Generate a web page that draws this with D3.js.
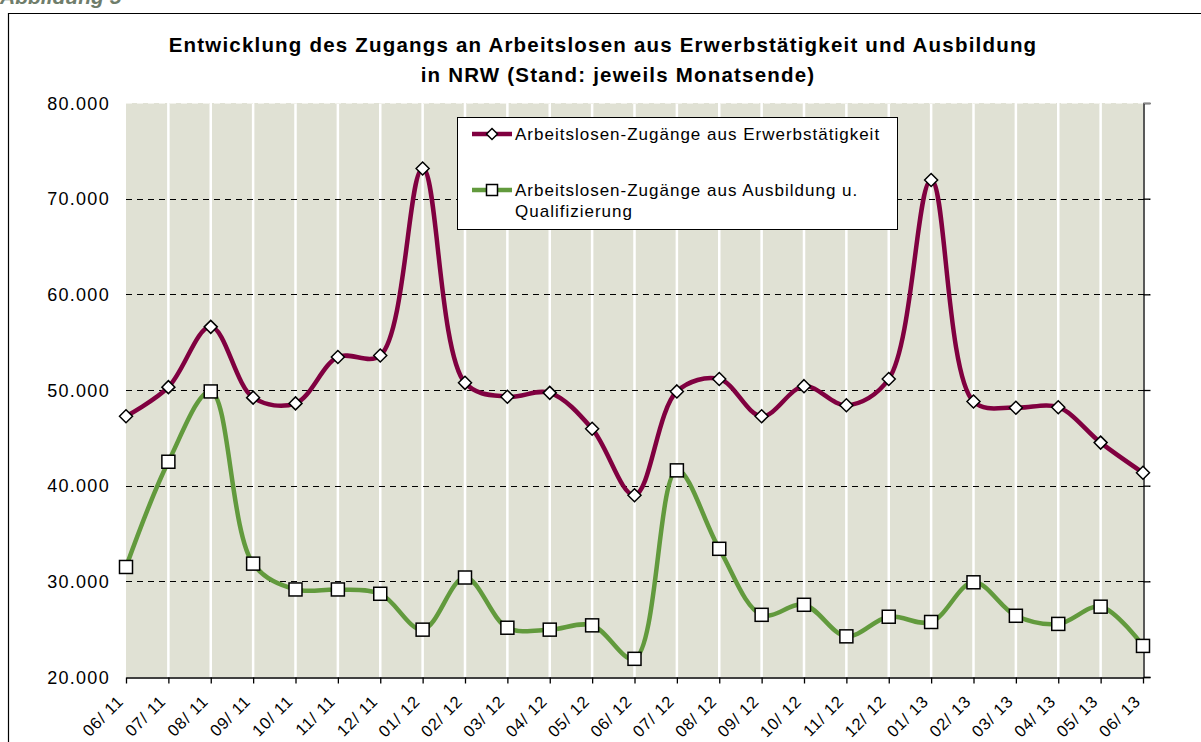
<!DOCTYPE html>
<meta charset="utf-8">
<title>Zugang an Arbeitslosen NRW</title>
<script src="https://d3js.org/d3.v7.min.js"></script>
<style>
  body { margin: 0; background: #fff; }
  svg { display: block; font-family: "Liberation Sans", Arial, sans-serif; }
</style>
<body>
<svg class=chart></svg>
<script>

var months = ["06/ 11", "07/ 11", "08/ 11", "09/ 11", "10/ 11", "11/ 11", "12/ 11",
  "01/ 12", "02/ 12", "03/ 12", "04/ 12", "05/ 12", "06/ 12", "07/ 12", "08/ 12",
  "09/ 12", "10/ 12", "11/ 12", "12/ 12", "01/ 13", "02/ 13", "03/ 13", "04/ 13",
  "05/ 13", "06/ 13"];

var erwerb = [47250, 50300, 56600, 49200, 48600, 53450, 53600, 73150, 50750, 49300,
  49700, 45950, 39000, 49850, 51150, 47250, 50400, 48400, 51150, 71950, 48800,
  48150, 48200, 44500, 41350];

var ausbildung = [31500, 42500, 49850, 31850, 29150, 29150, 28700, 24950, 30400,
  25150, 24950, 25400, 21900, 41600, 33400, 26500, 27550, 24250, 26300, 25750,
  29900, 26400, 25550, 27350, 23250];

var yTicks = [20000, 30000, 40000, 50000, 60000, 70000, 80000];

var series = [
  { lines: ["Arbeitslosen-Zugänge aus Erwerbstätigkeit"], values: erwerb, color: "#800040", marker: "diamond" },
  { lines: ["Arbeitslosen-Zugänge aus Ausbildung u.", "Qualifizierung"], values: ausbildung, color: "#629a3d", marker: "square" }
];

var width = 1201, height = 742;
var plotLeft = 126, plotRight = 1143, plotTop = 103, plotBottom = 677;

var svg = d3.select(".chart").attr("width", width).attr("height", height);

var x = d3.scalePoint().domain(months).range([plotLeft, plotRight]);
var y = d3.scaleLinear().domain([20000, 80000]).range([plotBottom, plotTop]);
var fmt = function(d) { return d3.format(",")(d).replace(/,/g, "."); };

// header above the frame (cut off at the top)
svg.append("text")
  .attr("x", 0).attr("y", 4)
  .attr("font-size", 21).attr("font-weight", "bold").attr("font-style", "italic")
  .attr("fill", "#6f7d6b")
  .text("Abbildung 5");

// frame
svg.append("path")
  .attr("d", "M8.5," + height + "V13.5H" + width)
  .attr("fill", "none").attr("stroke", "#000").attr("stroke-width", 1.2);

// title
var title = svg.append("text")
  .attr("text-anchor", "middle")
  .attr("font-size", 20.5).attr("font-weight", "bold")
  .style("letter-spacing", "1.2px");
title.append("tspan").attr("x", 603).attr("y", 52)
  .text("Entwicklung des Zugangs an Arbeitslosen aus Erwerbstätigkeit und Ausbildung");
title.append("tspan").attr("x", 618).attr("y", 82)
  .text("in NRW (Stand: jeweils Monatsende)");

// plot background
svg.append("rect")
  .attr("x", plotLeft).attr("y", plotTop)
  .attr("width", plotRight - plotLeft).attr("height", plotBottom - plotTop)
  .attr("fill", "#e0e1d4");

// white vertical lines at each category
svg.append("g").selectAll("line")
  .data(months.slice(1, -1))
  .enter().append("line")
  .attr("x1", function(d) { return x(d); }).attr("x2", function(d) { return x(d); })
  .attr("y1", plotTop).attr("y2", plotBottom)
  .attr("stroke", "#fff").attr("stroke-width", 2.5);

// horizontal dashed gridlines
svg.append("g").selectAll("line")
  .data(yTicks.slice(1))
  .enter().append("line")
  .attr("x1", plotLeft).attr("x2", plotRight + 7)
  .attr("y1", function(d) { return Math.round(y(d)) + 0.5; })
  .attr("y2", function(d) { return Math.round(y(d)) + 0.5; })
  .attr("stroke", function(d) { return d == 80000 ? "#f2f2ec" : "#000"; })
  .attr("stroke-width", 1)
  .attr("stroke-dasharray", "6,5");

// y labels
svg.append("g").selectAll("text")
  .data(yTicks)
  .enter().append("text")
  .attr("x", 110).attr("y", function(d) { return y(d) + 6.5; })
  .attr("text-anchor", "end")
  .attr("font-size", 18)
  .style("letter-spacing", "1.3px")
  .attr("fill", "#000")
  .text(fmt);

// right axis
var yAxis = svg.append("g")
  .attr("transform", "translate(" + (plotRight + 0.5) + ",0)")
  .call(d3.axisRight(y).tickValues(yTicks).tickSize(7).tickFormat(""));
yAxis.select(".domain").attr("stroke", "#000").attr("stroke-width", 1.3);
yAxis.selectAll(".tick line").attr("stroke", function(d) { return d == 80000 ? "#888" : "#000"; }).attr("stroke-width", 1.3);

// x axis
var xAxis = svg.append("g")
  .attr("transform", "translate(0," + (plotBottom + 0.5) + ")")
  .call(d3.axisBottom(x).tickSize(6).tickSizeOuter(0));
xAxis.select(".domain").attr("stroke", "#000").attr("stroke-width", 1.3);
xAxis.selectAll(".tick line").attr("stroke", "#000").attr("stroke-width", 1.3);
xAxis.selectAll(".tick text")
  .attr("font-family", "Liberation Sans, Arial, sans-serif")
  .attr("font-size", 16.5)
  .style("letter-spacing", "0.8px")
  .attr("fill", "#000")
  .attr("text-anchor", "end")
  .attr("dx", 0).attr("dy", 0)
  .attr("y", 0)
  .attr("transform", "translate(-2,25) rotate(-45)");

// lines
var line = d3.line()
  .x(function(d, i) { return x(months[i]); })
  .y(function(d) { return y(d); })
  .curve(d3.curveCatmullRom.alpha(0.5));

var diamond = function(s) { return "M0," + (-s) + "L" + s + ",0L0," + s + "L" + (-s) + ",0Z"; };

function drawMarker(g, type, s) {
  if (type == "diamond") {
    g.append("path").attr("d", diamond(s))
      .attr("fill", "#fff").attr("stroke", "#000").attr("stroke-width", 1.5);
  } else {
    g.append("rect").attr("x", -s).attr("y", -s).attr("width", 2 * s).attr("height", 2 * s)
      .attr("fill", "#fff").attr("stroke", "#000").attr("stroke-width", 1.5);
  }
}

series.forEach(function(s) {
  svg.append("path")
    .datum(s.values)
    .attr("d", line)
    .attr("fill", "none")
    .attr("stroke", s.color)
    .attr("stroke-width", 4.5)
    .attr("stroke-linejoin", "round");
});

series.forEach(function(s) {
  svg.append("g").selectAll("g")
    .data(s.values)
    .enter().append("g")
    .attr("transform", function(d, i) { return "translate(" + x(months[i]) + "," + y(d) + ")"; })
    .each(function() { drawMarker(d3.select(this), s.marker, 6.5); });
});

// legend
var legend = svg.append("g");
legend.append("rect")
  .attr("x", 457.5).attr("y", 117.5).attr("width", 440).attr("height", 112)
  .attr("fill", "#fff").attr("stroke", "#000").attr("stroke-width", 1);

var legendRows = [134, 190];
series.forEach(function(s, i) {
  var ly = legendRows[i];
  legend.append("line")
    .attr("x1", 472).attr("x2", 512).attr("y1", ly).attr("y2", ly)
    .attr("stroke", s.color).attr("stroke-width", 4.5);
  var m = legend.append("g").attr("transform", "translate(492," + ly + ")");
  drawMarker(m, s.marker, 5.5);
  var t = legend.append("text")
    .attr("font-size", 17).style("letter-spacing", "1px").attr("fill", "#000");
  s.lines.forEach(function(l, j) {
    t.append("tspan").attr("x", 515).attr("y", ly + 6 + j * 21).text(l);
  });
});

</script>
</body>
